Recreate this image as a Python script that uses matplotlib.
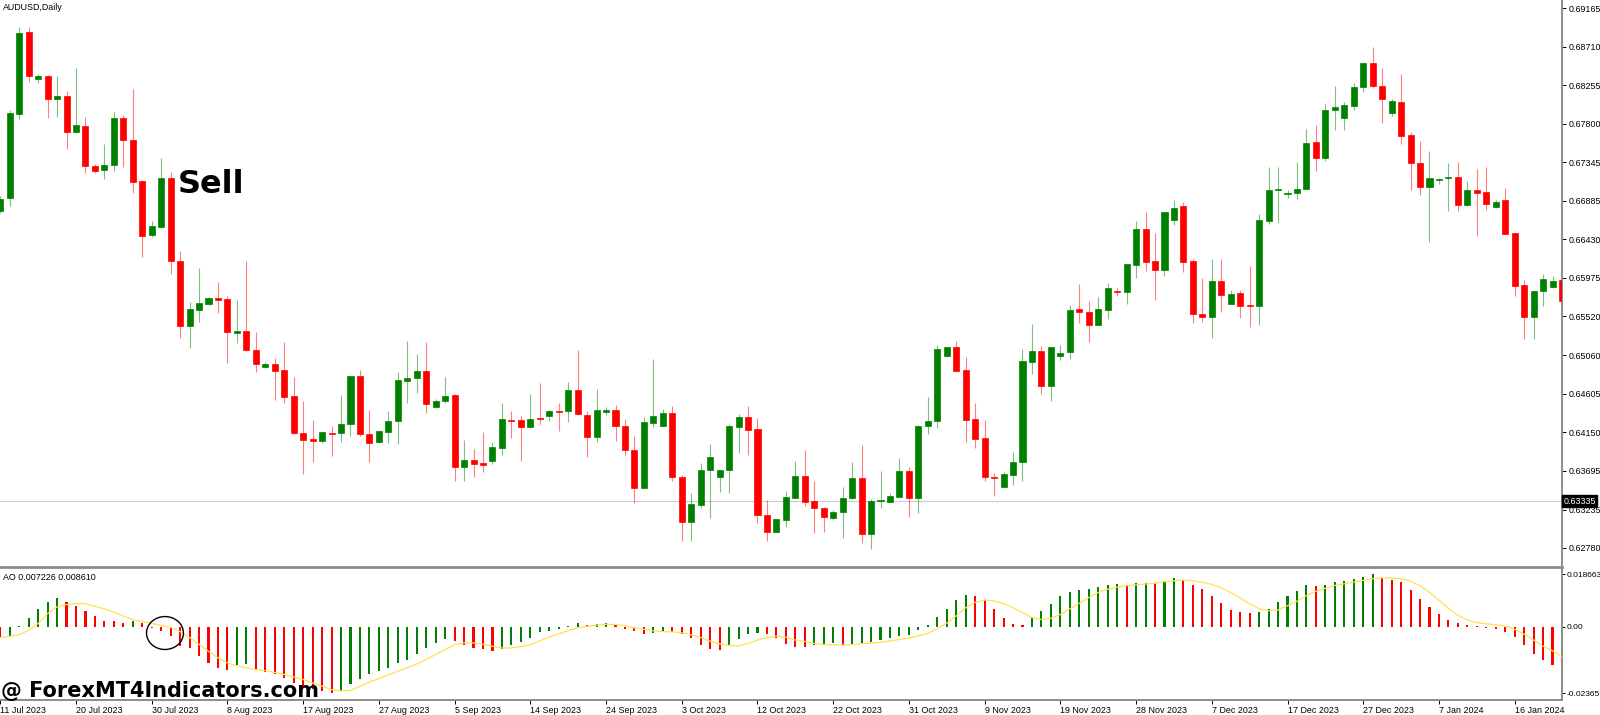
import numpy as np
import matplotlib.pyplot as plt
from matplotlib.patches import Ellipse
from matplotlib.transforms import blended_transform_factory

plt.rcParams['font.family'] = ['Liberation Sans', 'DejaVu Sans']

# AUDUSD daily candles, 11 Jul 2023 .. 22 Jan 2024
opens = [
    0.66766, 0.66920, 0.67914, 0.68884, 0.68328, 0.68363, 0.68091, 0.68126, 0.67701, 0.67772,
    0.67298, 0.67251, 0.67310, 0.67866, 0.67606, 0.67121, 0.66482, 0.66577, 0.67156, 0.66175,
    0.65406, 0.65595, 0.65666, 0.65737, 0.65725, 0.65323, 0.65347, 0.65122, 0.64921, 0.64956,
    0.64885, 0.64578, 0.64140, 0.64066, 0.64049, 0.64140, 0.64137, 0.64243, 0.64814, 0.64128,
    0.64030, 0.64155, 0.64286, 0.64759, 0.64794, 0.64870, 0.64451, 0.64522, 0.64586, 0.63741,
    0.63821, 0.63789, 0.63805, 0.63966, 0.64294, 0.64290, 0.64207, 0.64317, 0.64345, 0.64400,
    0.64397, 0.64645, 0.64357, 0.64096, 0.64392, 0.64412, 0.64223, 0.63939, 0.63486, 0.64262,
    0.64226, 0.64380, 0.63623, 0.63087, 0.63288, 0.63699, 0.63620, 0.63699, 0.64215, 0.64326,
    0.64184, 0.63170, 0.62973, 0.63114, 0.63375, 0.63635, 0.63336, 0.63253, 0.63138, 0.63206,
    0.63368, 0.63611, 0.62942, 0.63336, 0.63327, 0.63386, 0.63687, 0.63368, 0.64226, 0.64282,
    0.65047, 0.65157, 0.64889, 0.64309, 0.64081, 0.63623, 0.63501, 0.63647, 0.63801, 0.64983,
    0.65114, 0.64692, 0.65051, 0.65102, 0.65603, 0.65575, 0.65418, 0.65599, 0.65820, 0.65812,
    0.66131, 0.66553, 0.66171, 0.66065, 0.66660, 0.66822, 0.66171, 0.65544, 0.65512, 0.65938,
    0.65670, 0.65793, 0.65651, 0.65642, 0.66648, 0.67011, 0.66971, 0.66979, 0.67030, 0.67582,
    0.67390, 0.67961, 0.67866, 0.68008, 0.68233, 0.68520, 0.68248, 0.67925, 0.68059, 0.67662,
    0.67337, 0.67054, 0.67129, 0.67153, 0.67168, 0.66841, 0.67018, 0.66991, 0.66817, 0.66893,
    0.66502, 0.65891, 0.65516, 0.65815, 0.65869, 0.65951,
]
highs = [
    0.66944, 0.67961, 0.68943, 0.68943, 0.68387, 0.68375, 0.68363, 0.68186, 0.68458, 0.67878,
    0.67322, 0.67559, 0.67937, 0.67902, 0.68209, 0.67133, 0.66648, 0.67393, 0.67227, 0.66293,
    0.65690, 0.66092, 0.65749, 0.65926, 0.65761, 0.65713, 0.66175, 0.65335, 0.64980, 0.65027,
    0.65220, 0.64806, 0.64515, 0.64294, 0.64152, 0.64223, 0.64586, 0.64818, 0.64885, 0.64412,
    0.64176, 0.64400, 0.64865, 0.65228, 0.65078, 0.65220, 0.64542, 0.64806, 0.64601, 0.64054,
    0.63951, 0.64148, 0.64030, 0.64499, 0.64400, 0.64345, 0.64601, 0.64735, 0.64416, 0.64499,
    0.64743, 0.65118, 0.64404, 0.64661, 0.64451, 0.64468, 0.64306, 0.64105, 0.64329, 0.65015,
    0.64420, 0.64459, 0.63643, 0.63434, 0.63782, 0.64010, 0.63708, 0.64247, 0.64365, 0.64459,
    0.64317, 0.63348, 0.63123, 0.63458, 0.63805, 0.63939, 0.63576, 0.63268, 0.63229, 0.63498,
    0.63797, 0.63998, 0.63356, 0.63691, 0.63434, 0.63848, 0.63741, 0.64229, 0.64562, 0.65181,
    0.65161, 0.65228, 0.65039, 0.64499, 0.64290, 0.63670, 0.63675, 0.63915, 0.65130, 0.65429,
    0.65169, 0.65163, 0.65177, 0.65654, 0.65899, 0.65698, 0.65745, 0.65914, 0.65852, 0.66139,
    0.66651, 0.66758, 0.66502, 0.66760, 0.66896, 0.66873, 0.66202, 0.65970, 0.66195, 0.66195,
    0.65832, 0.65832, 0.66119, 0.66731, 0.67287, 0.67287, 0.67015, 0.67346, 0.67736, 0.67783,
    0.68028, 0.68245, 0.68055, 0.68280, 0.68532, 0.68710, 0.68458, 0.68091, 0.68383, 0.67697,
    0.67594, 0.67472, 0.67160, 0.67337, 0.67342, 0.67121, 0.67263, 0.67287, 0.66896, 0.67042,
    0.66509, 0.65950, 0.65823, 0.66022, 0.65995, 0.66284,
]
lows = [
    0.66742, 0.66825, 0.67854, 0.68292, 0.68280, 0.67866, 0.67878, 0.67500, 0.67689, 0.67216,
    0.67216, 0.67145, 0.67239, 0.67287, 0.66979, 0.66222, 0.66459, 0.66565, 0.66021, 0.65264,
    0.65146, 0.65453, 0.65654, 0.65560, 0.64968, 0.65205, 0.65110, 0.64862, 0.64909, 0.64530,
    0.64499, 0.64128, 0.63655, 0.63793, 0.64018, 0.63868, 0.64037, 0.64108, 0.64108, 0.63801,
    0.64022, 0.64025, 0.64014, 0.64491, 0.64613, 0.64380, 0.64436, 0.64499, 0.63576, 0.63576,
    0.63623, 0.63675, 0.63770, 0.63883, 0.64084, 0.63809, 0.64196, 0.64250, 0.64282, 0.64164,
    0.64274, 0.64357, 0.63860, 0.64030, 0.64353, 0.64045, 0.63880, 0.63316, 0.63478, 0.64215,
    0.64223, 0.63572, 0.62866, 0.62866, 0.63249, 0.63131, 0.63439, 0.63434, 0.63907, 0.63883,
    0.63079, 0.62866, 0.62969, 0.63032, 0.63371, 0.63280, 0.62961, 0.62973, 0.63111, 0.62894,
    0.63363, 0.62842, 0.62764, 0.63249, 0.63324, 0.63379, 0.63150, 0.63190, 0.64132, 0.64203,
    0.65036, 0.64858, 0.64037, 0.63966, 0.63576, 0.63395, 0.63498, 0.63525, 0.63576, 0.64838,
    0.64605, 0.64519, 0.65007, 0.65012, 0.65438, 0.65217, 0.65414, 0.65489, 0.65764, 0.65666,
    0.65970, 0.66060, 0.65713, 0.65997, 0.66601, 0.66048, 0.65438, 0.65457, 0.65260, 0.65575,
    0.65666, 0.65497, 0.65390, 0.65421, 0.66612, 0.66628, 0.66923, 0.66905, 0.67026, 0.67239,
    0.67358, 0.67724, 0.67721, 0.67961, 0.68170, 0.68218, 0.67804, 0.67886, 0.67562, 0.67015,
    0.66955, 0.66399, 0.67082, 0.66766, 0.66766, 0.66829, 0.66467, 0.66774, 0.66798, 0.66494,
    0.65761, 0.65248, 0.65248, 0.65642, 0.65859, 0.65652,
]
closes = [
    0.66908, 0.67925, 0.68872, 0.68363, 0.68363, 0.68091, 0.68126, 0.67701, 0.67783, 0.67298,
    0.67239, 0.67310, 0.67866, 0.67606, 0.67109, 0.66470, 0.66589, 0.67156, 0.66175, 0.65406,
    0.65607, 0.65678, 0.65737, 0.65713, 0.65335, 0.65347, 0.65122, 0.64956, 0.64956, 0.64873,
    0.64569, 0.64137, 0.64061, 0.64042, 0.64148, 0.64128, 0.64247, 0.64811, 0.64128, 0.64025,
    0.64164, 0.64286, 0.64763, 0.64791, 0.64870, 0.64487, 0.64519, 0.64578, 0.63741, 0.63821,
    0.63777, 0.63765, 0.63974, 0.64302, 0.64282, 0.64207, 0.64309, 0.64306, 0.64400, 0.64388,
    0.64645, 0.64361, 0.64096, 0.64412, 0.64412, 0.64223, 0.63935, 0.63486, 0.64267, 0.64345,
    0.64373, 0.63620, 0.63087, 0.63297, 0.63702, 0.63853, 0.63702, 0.64219, 0.64326, 0.64179,
    0.63166, 0.62969, 0.63119, 0.63379, 0.63635, 0.63327, 0.63249, 0.63150, 0.63209, 0.63371,
    0.63608, 0.62942, 0.63336, 0.63348, 0.63395, 0.63687, 0.63375, 0.64223, 0.64282, 0.65134,
    0.65154, 0.64877, 0.64297, 0.64073, 0.63620, 0.63608, 0.63655, 0.63797, 0.64988, 0.65114,
    0.64692, 0.65157, 0.65086, 0.65599, 0.65571, 0.65421, 0.65607, 0.65852, 0.65804, 0.66136,
    0.66553, 0.66166, 0.66065, 0.66758, 0.66802, 0.66166, 0.65544, 0.65512, 0.65938, 0.65769,
    0.65784, 0.65642, 0.65639, 0.66656, 0.67015, 0.67023, 0.66983, 0.67030, 0.67574, 0.67393,
    0.67961, 0.67993, 0.68016, 0.68233, 0.68520, 0.68248, 0.68095, 0.68071, 0.67650, 0.67337,
    0.67050, 0.67156, 0.67148, 0.67168, 0.66841, 0.67018, 0.66979, 0.66852, 0.66876, 0.66498,
    0.65879, 0.65516, 0.65816, 0.65962, 0.65940, 0.65706,
]

# Awesome Oscillator histogram, bar colours (g = rising, r = falling) and the yellow signal line
ao = [
    -0.0040, -0.0033, 0.0002, 0.0030, 0.0062, 0.0088, 0.0101, 0.0088, 0.0074, 0.0056,
    0.0037, 0.0022, 0.0020, 0.0014, 0.0020, 0.0012, -0.0003, -0.0014, -0.0032, -0.0067,
    -0.0075, -0.0102, -0.0129, -0.0145, -0.0152, -0.0135, -0.0131, -0.0154, -0.0159, -0.0166,
    -0.0181, -0.0198, -0.0211, -0.0220, -0.0229, -0.02365, -0.0228, -0.0204, -0.0185, -0.0166,
    -0.0158, -0.0148, -0.0128, -0.0119, -0.0097, -0.0075, -0.0057, -0.0045, -0.0050, -0.0063,
    -0.0075, -0.0079, -0.0085, -0.0077, -0.0066, -0.0053, -0.0039, -0.0020, -0.0014, -0.0008,
    0.0004, 0.0014, 0.0008, 0.0009, 0.0014, 0.0006, -0.0008, -0.0014, -0.0025, -0.0021,
    -0.0019, -0.0020, -0.0027, -0.0039, -0.0063, -0.0077, -0.0084, -0.0069, -0.0045, -0.0026,
    -0.0021, -0.0027, -0.0039, -0.0060, -0.0071, -0.0072, -0.0066, -0.0062, -0.0059, -0.0065,
    -0.0062, -0.0057, -0.0053, -0.0047, -0.0039, -0.0033, -0.0030, -0.0012, 0.0008, 0.0036,
    0.0065, 0.0095, 0.0113, 0.0110, 0.0095, 0.0063, 0.0030, 0.0009, 0.0008, 0.0032,
    0.0056, 0.0082, 0.0108, 0.0123, 0.0130, 0.0134, 0.0143, 0.0149, 0.0152, 0.0149,
    0.0154, 0.0157, 0.0155, 0.0164, 0.0172, 0.0166, 0.0148, 0.0133, 0.0109, 0.0085,
    0.0059, 0.0051, 0.0050, 0.0051, 0.0065, 0.0088, 0.0109, 0.0127, 0.0147, 0.0146,
    0.0149, 0.0158, 0.0164, 0.0169, 0.0177, 0.01866, 0.0175, 0.0168, 0.0158, 0.0130,
    0.0098, 0.0069, 0.0045, 0.0023, 0.0013, 0.0005, 0.0002, -0.0004, -0.0009, -0.0018,
    -0.0036, -0.0064, -0.0097, -0.0119, -0.0137, -0.0145,
]
ao_colours = ("rggggggrrr" "rrrrgrrrrr" "rrrrrggrrr" "rrrrrrgggg" "ggggggggrr"
              "rrrggggggg" "ggrggrrrrg" "grrrrrrggg" "grrrrrgggr" "gggggggggg"
              "gggrrrrrrg" "gggggggggr" "ggrggrrrrr" "rrrggggggr" "ggggggrrrr"
              "rrrrrrrrrr" "rrrrrr")
signal = [
    -0.0038, -0.0034, -0.0028, -0.0012, 0.0012, 0.0047, 0.0071, 0.0079, 0.0083, 0.0082,
    0.0073, 0.0064, 0.0052, 0.0038, 0.0026, 0.0018, 0.0012, 0.0005, -0.0002, -0.0017,
    -0.0038, -0.0062, -0.0087, -0.0110, -0.0128, -0.0139, -0.0146, -0.0152, -0.0156, -0.0162,
    -0.0169, -0.0178, -0.0187, -0.0199, -0.0211, -0.0223, -0.0228, -0.0226, -0.0211, -0.0196,
    -0.0184, -0.0171, -0.0158, -0.0145, -0.0132, -0.0116, -0.0098, -0.0081, -0.0064, -0.0057,
    -0.0057, -0.0062, -0.0069, -0.0075, -0.0075, -0.0070, -0.0063, -0.0050, -0.0036, -0.0025,
    -0.0014, -0.0004, 0.0002, 0.0006, 0.0009, 0.0008, 0.0004, -0.0004, -0.0009, -0.0014,
    -0.0017, -0.0018, -0.0021, -0.0028, -0.0038, -0.0051, -0.0060, -0.0066, -0.0068, -0.0059,
    -0.0047, -0.0038, -0.0033, -0.0037, -0.0047, -0.0052, -0.0059, -0.0063, -0.0064, -0.0065,
    -0.0063, -0.0060, -0.0058, -0.0055, -0.0050, -0.0045, -0.0040, -0.0032, -0.0023, -0.0007,
    0.0013, 0.0039, 0.0068, 0.0087, 0.0095, 0.0092, 0.0083, 0.0068, 0.0050, 0.0033,
    0.0026, 0.0030, 0.0044, 0.0064, 0.0084, 0.0104, 0.0122, 0.0134, 0.0141, 0.0146,
    0.0149, 0.0152, 0.0155, 0.0160, 0.0164, 0.0166, 0.0164, 0.0158, 0.0151, 0.0139,
    0.0122, 0.0103, 0.0082, 0.0064, 0.0057, 0.0060, 0.0075, 0.0091, 0.0111, 0.0126,
    0.0137, 0.0147, 0.0153, 0.0159, 0.0165, 0.0171, 0.0174, 0.0173, 0.0171, 0.0162,
    0.0146, 0.0122, 0.0095, 0.0065, 0.0041, 0.0025, 0.0015, 0.0011, 0.0007, 0.0004,
    -0.0009, -0.0026, -0.0047, -0.0069, -0.0085, -0.0107,
]

price_ticks = [0.69165, 0.68710, 0.68255, 0.67800, 0.67345, 0.66885, 0.66430, 0.65975,
               0.65520, 0.65060, 0.64605, 0.64150, 0.63695, 0.63235, 0.62780]
last_price = 0.63335
ao_ticks = [0.018663, 0.0, -0.02365]
ao_tick_labels = ["0.018663", "0.00", "-0.02365"]
date_labels = ["11 Jul 2023", "20 Jul 2023", "30 Jul 2023", "8 Aug 2023", "17 Aug 2023",
               "27 Aug 2023", "5 Sep 2023", "14 Sep 2023", "24 Sep 2023", "3 Oct 2023",
               "12 Oct 2023", "22 Oct 2023", "31 Oct 2023", "9 Nov 2023", "19 Nov 2023",
               "28 Nov 2023", "7 Dec 2023", "17 Dec 2023", "27 Dec 2023", "7 Jan 2024",
               "16 Jan 2024"]
date_bars = list(range(0, 161, 8))

GREEN = '#008000'
RED = '#ff0000'
AXIS = '#8c8c8c'
W, H = 1600, 715

fig = plt.figure(figsize=(W / 100, H / 100), dpi=100)
ax = fig.add_axes([0, (H - 567) / H, 1562 / W, 567 / H])
ax2 = fig.add_axes([0, (H - 700) / H, 1562 / W, 131 / H])

x = np.arange(len(opens))
o, hi, lo, c = map(np.array, (opens, highs, lows, closes))
cols = np.where(c >= o, GREEN, RED)

# candles
ax.vlines(x, lo, hi, colors=cols, linewidth=0.8, alpha=0.5, zorder=2)
ax.bar(x, np.maximum(np.abs(c - o), 0.00008), bottom=np.minimum(o, c), width=0.64,
       color=cols, edgecolor=cols, linewidth=0.5, zorder=3)
ax.axhline(last_price, color='#cccccc', linewidth=0.8, zorder=1)

ax.set_xlim(-0.03, 165.0)
ax.set_ylim(0.62555, 0.69262)
ax.set_xticks([])
ax.yaxis.tick_right()
ax.set_yticks(price_ticks)
ax.set_yticklabels([f"{p:.5f}" for p in price_ticks])
ax.tick_params(axis='y', length=3, width=0.7, labelsize=6.4, pad=1.5)
for s in ('left', 'top'):
    ax.spines[s].set_visible(False)
ax.spines['right'].set_color(AXIS)
ax.spines['right'].set_linewidth(1.4)
ax.spines['bottom'].set_color(AXIS)
ax.spines['bottom'].set_linewidth(2.0)

tr = blended_transform_factory(ax.transAxes, ax.transData)
ax.text(1.0008, last_price, f"{last_price:.5f}", transform=tr, fontsize=6.4, color='white',
        va='center', ha='left', zorder=10,
        bbox=dict(boxstyle='square,pad=0.15', fc='black', ec='black'))

# AO window
ao_cols = [GREEN if k == 'g' else RED for k in ao_colours]
ax2.bar(x, ao, width=0.22, color=ao_cols, linewidth=0, zorder=2)
ax2.plot(x, signal, color='#ffe14d', linewidth=0.9, zorder=3)
ax2.set_xlim(-0.03, 165.0)
ax2.set_ylim(-0.0260, 0.02055)
ax2.yaxis.tick_right()
ax2.set_yticks(ao_ticks)
ax2.set_yticklabels(ao_tick_labels)
ax2.set_xticks(date_bars)
ax2.set_xticklabels(date_labels, ha='left')
ax2.tick_params(axis='y', length=2, width=0.7, labelsize=6.0, pad=1)
ax2.tick_params(axis='x', length=3, width=0.7, labelsize=6.4, pad=1)
for s in ('left', 'top'):
    ax2.spines[s].set_visible(False)
for s in ('right', 'bottom'):
    ax2.spines[s].set_color(AXIS)
    ax2.spines[s].set_linewidth(1.4)

ax2.add_patch(Ellipse((17.4, -0.0022), 3.9, 0.0117, fill=False, edgecolor='black',
                      linewidth=1.0, zorder=5, clip_on=False))

# texts
fig.text(3 / W, 1 - 8 / H, "AUDUSD,Daily", fontsize=6.4, va='center', ha='left')
fig.text(3 / W, 1 - 577 / H, "AO 0.007226 0.008610", fontsize=6.4, va='center', ha='left')
fig.text(178 / W, 1 - 193 / H, "Sell", fontsize=23, fontweight='bold',
         family='DejaVu Sans', va='baseline', ha='left')
fig.text(1 / W, 1 - 697 / H, "@ ForexMT4Indicators.com", fontsize=15, fontweight='bold',
         family='DejaVu Sans', va='baseline', ha='left', zorder=20)

fig.savefig('out.png', dpi=100)
